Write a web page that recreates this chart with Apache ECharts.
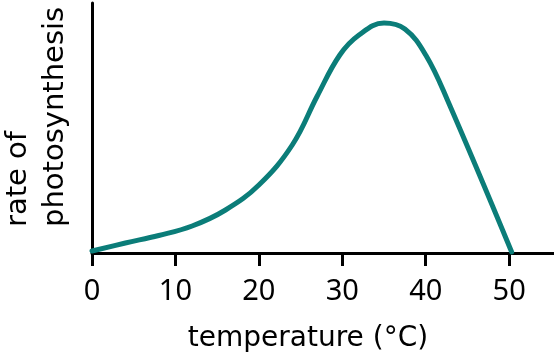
<!DOCTYPE html>
<html>
<head>
<meta charset="utf-8">
<script src="https://cdn.jsdelivr.net/npm/echarts@6/dist/echarts.min.js"></script>
<style>html,body{margin:0;padding:0;background:#fff}#c{width:554px;height:355px}</style>
</head>
<body>
<div id="c"></div>
<script>
var temperatures = [0, 4, 8, 12, 16, 20, 24, 27, 29.7, 32, 35, 37.5, 40, 42.6, 50.3];
var rates =        [2, 10, 17.5, 27, 43, 68, 108, 157, 198, 218, 230, 224, 198, 153, 1];
var tickValues = [0, 10, 20, 30, 40, 50];
var xTitle = 'temperature (°C)';
var yTitle = 'rate of\nphotosynthesis';

var chart = echarts.init(document.getElementById('c'), null, {renderer: 'canvas'});
var points = temperatures.map(function (t, i) { return [t, rates[i]]; });
chart.setOption({
  animation: false,
  grid: {left: 92, width: 500.6, top: 3, bottom: 102, containLabel: false, outerBoundsMode: 'none'},
  xAxis: {
    type: 'value', min: 0, max: 60, interval: 10,
    axisLine: {show: true, onZero: false, lineStyle: {color: '#000', width: 3}},
    axisTick: {show: true, length: 13, lineStyle: {color: '#000', width: 3}},
    axisLabel: {show: true, margin: 24, color: '#000', fontSize: 29, fontFamily: 'Noto Sans',
      formatter: function (v) { return tickValues.indexOf(v) >= 0 ? String(v) : ''; }},
    splitLine: {show: false}
  },
  yAxis: {
    type: 'value', min: 0, max: 250,
    axisLine: {show: true, lineStyle: {color: '#000', width: 3}},
    axisTick: {show: false},
    axisLabel: {show: false},
    splitLine: {show: false}
  },
  series: [{
    type: 'line', data: points, smooth: 0.4, symbol: 'none',
    lineStyle: {color: '#0b7d79', width: 5, cap: 'round'}
  }],
  graphic: [
    {type: 'text', x: 308, y: 339, style: {text: xTitle, fill: '#000', font: '28px "DejaVu Sans"', textAlign: 'center', textVerticalAlign: 'middle'}},
    {type: 'text', x: 0, y: 227, rotation: Math.PI / 2, style: {text: yTitle, fill: '#000', font: '29px "DejaVu Sans"', lineHeight: 37, textAlign: 'left', textVerticalAlign: 'top'}}
  ]
});
</script>
</body>
</html>
